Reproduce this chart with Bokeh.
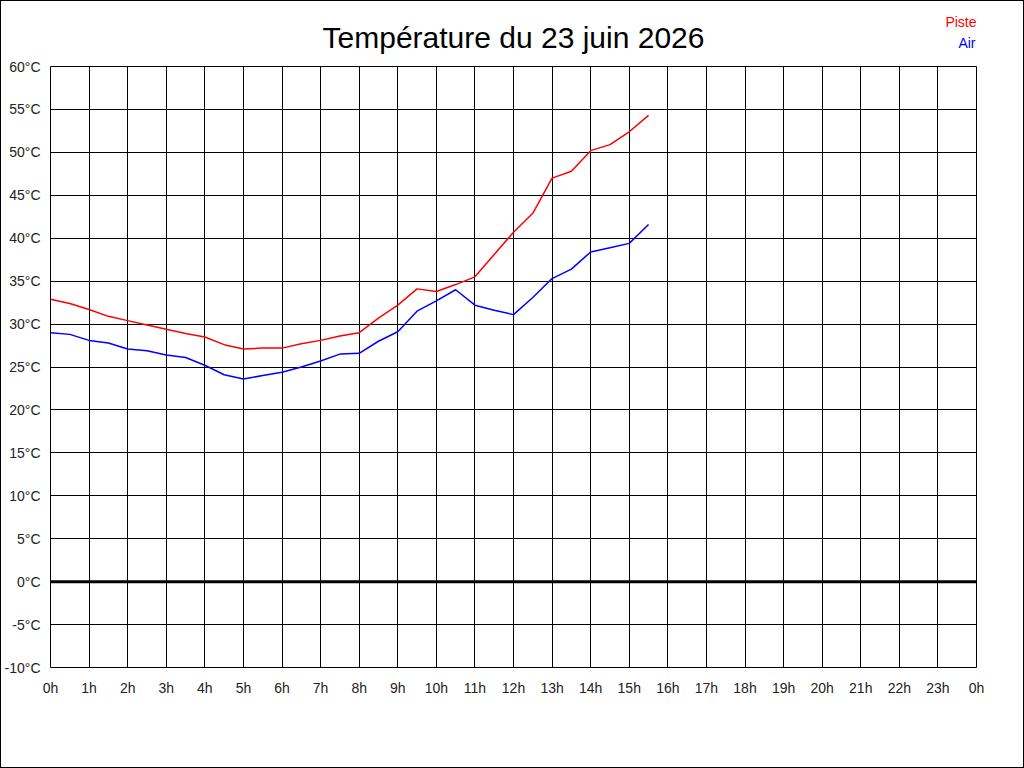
from bokeh.plotting import figure
from bokeh.layouts import column
from bokeh.models import FixedTicker, Range1d, Span
from bokeh.core.properties import value
from bokeh.embed import file_html
from bokeh.resources import INLINE

title_text = "Température du 23 juin 2026"
hours = [0, 0.5, 1, 1.5, 2, 2.5, 3, 3.5, 4, 4.5, 5, 5.5, 6, 6.5, 7, 7.5,
         8, 8.5, 9, 9.5, 10, 10.5, 11, 11.5, 12, 12.5, 13, 13.5, 14, 14.5, 15, 15.5]
piste = [32.9, 32.4, 31.7, 30.9, 30.4, 29.9, 29.4, 28.9, 28.5, 27.6, 27.1, 27.2,
         27.2, 27.7, 28.1, 28.6, 29.0, 30.7, 32.2, 34.1, 33.8, 34.6, 35.5, 38.1,
         40.7, 42.9, 47.0, 47.8, 50.2, 50.9, 52.4, 54.3]
air = [29.0, 28.8, 28.1, 27.8, 27.1, 26.9, 26.4, 26.1, 25.2, 24.1, 23.6, 24.0,
       24.4, 25.0, 25.7, 26.5, 26.6, 28.0, 29.1, 31.5, 32.7, 34.0, 32.2, 31.6,
       31.1, 33.1, 35.3, 36.4, 38.4, 38.9, 39.4, 41.6]
x_ticks = list(range(0, 25))
x_labels = [f"{h % 24}h" for h in x_ticks]
y_ticks = list(range(-10, 65, 5))
y_labels = [f"{t}°C" for t in y_ticks]
series_names = ["Piste", "Air"]
series_colors = ["#ff0000", "#0000ff"]

FONT = "Liberation Sans"

# ---- header strip (title + series labels); its frame is aligned with the chart frame ----
head = figure(width=1024, height=56, output_backend="svg", toolbar_location=None,
              x_range=Range1d(50, 974), y_range=Range1d(55, 0),
              x_axis_location=None, y_axis_location=None,
              min_border=0, min_border_left=0, min_border_right=0,
              min_border_top=0, min_border_bottom=0)
head.grid.visible = False
head.outline_line_color = None
head.background_fill_color = "white"
head.border_fill_color = "white"
head.styles = {"border-top": "1px solid black", "border-left": "1px solid black",
               "border-right": "1px solid black", "box-sizing": "border-box"}
head.text(x=[512], y=[35], text=[title_text], text_align="center",
          text_baseline="alphabetic", text_color="black",
          text_font=value(FONT), text_font_size="30px")
head.text(x=[974, 973], y=[20, 41], text=series_names, text_align="right",
          text_baseline="alphabetic", text_color=series_colors,
          text_font=value(FONT), text_font_size="14px")

# ---- main chart ----
p = figure(width=1024, height=712, output_backend="svg", toolbar_location=None,
           x_range=Range1d(0, 24), y_range=Range1d(-10, 60),
           min_border_left=49, min_border_right=49, min_border_top=10,
           min_border_bottom=101)
p.styles = {"border-bottom": "1px solid black", "border-left": "1px solid black",
            "border-right": "1px solid black", "box-sizing": "border-box"}
p.background_fill_color = "white"
p.border_fill_color = "white"
p.outline_line_color = "black"
p.outline_line_width = 1

p.xaxis.ticker = FixedTicker(ticks=x_ticks)
p.xaxis.major_label_overrides = {t: l for t, l in zip(x_ticks, x_labels)}
p.yaxis.ticker = FixedTicker(ticks=y_ticks)
p.yaxis.major_label_overrides = {t: l for t, l in zip(y_ticks, y_labels)}
for ax in (p.xaxis, p.yaxis):
    ax.axis_line_color = None
    ax.major_tick_line_color = None
    ax.minor_tick_line_color = None
    ax.major_label_text_font = FONT
    ax.major_label_text_font_size = "14px"
    ax.major_label_text_color = "#222222"
p.xaxis.major_label_standoff = 6
p.yaxis.major_label_standoff = 4

p.xgrid.ticker = FixedTicker(ticks=x_ticks)
p.ygrid.ticker = FixedTicker(ticks=y_ticks)
p.grid.grid_line_color = "black"
p.grid.grid_line_width = 1
p.grid.grid_line_alpha = 1.0

p.add_layout(Span(location=0, dimension="width", line_color="black", line_width=3))

p.line(hours, piste, line_color=series_colors[0], line_width=1.5)
p.line(hours, air, line_color=series_colors[1], line_width=1.5)

layout = column(head, p, spacing=0)
open("out.html", "w").write(file_html(layout, INLINE))
